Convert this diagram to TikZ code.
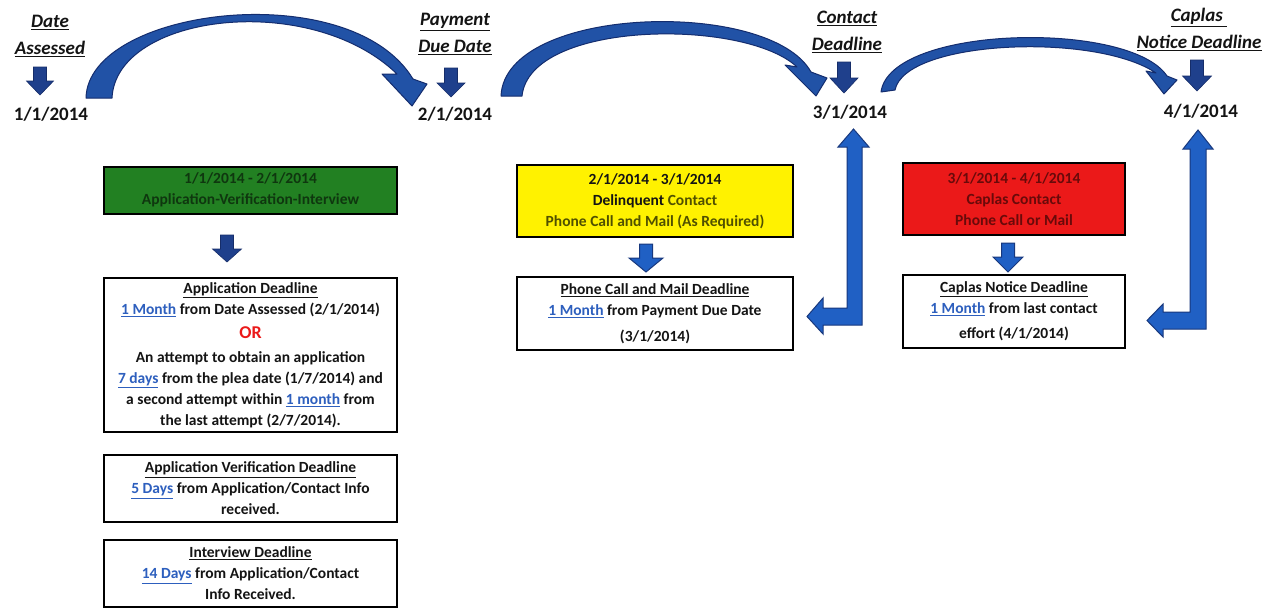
\documentclass[tikz,border=0pt]{standalone}
\usepackage{fontspec}
\setmainfont{Carlito}
\definecolor{navyarr}{RGB}{31,64,140}
\definecolor{navyedge}{RGB}{22,45,105}
\definecolor{brightarr}{RGB}{32,96,196}
\definecolor{brightedge}{RGB}{24,56,125}
\definecolor{curvefill}{RGB}{33,82,166}
\definecolor{curveedge}{RGB}{20,45,110}
\definecolor{linkblue}{RGB}{45,95,190}
\definecolor{boxgreen}{RGB}{34,128,34}
\definecolor{greentext}{RGB}{15,55,15}
\definecolor{boxred}{RGB}{235,25,25}
\definecolor{redtext}{RGB}{105,10,10}
\definecolor{olivetext}{RGB}{80,80,0}
\definecolor{ored}{RGB}{235,25,25}
\definecolor{txtblack}{RGB}{20,20,20}
\newcommand\boxfont{\fontsize{15.5}{21}\selectfont\bfseries}
\newcommand\lnk[1]{\textcolor{linkblue}{\underline{#1}}}
\newcommand\blkdown[7]{\filldraw[#7] ({#1-#5/2},#2) -- ({#1+#5/2},#2) -- ({#1+#5/2},#3) -- ({#1+#6/2},#3) -- (#1,#4) -- ({#1-#6/2},#3) -- ({#1-#5/2},#3) -- cycle;}
\tikzset{
  tbox/.style={draw=black, line width=2pt, fill=white, inner sep=0pt, align=center, font=\boxfont, text=txtblack},
  hdr/.style={align=center, inner sep=0pt, font=\fontsize{19}{27}\selectfont\bfseries\itshape, text=txtblack},
  datelbl/.style={inner sep=0pt, font=\fontsize{19}{22}\selectfont\bfseries, text=txtblack},
  navystyle/.style={fill=navyarr, draw=navyedge, line width=0.6pt},
  brightstyle/.style={fill=brightarr, draw=brightedge, line width=1pt},
  curvestyle/.style={fill=curvefill, draw=curveedge, line width=1pt, line join=round},
}
\begin{document}
\begin{tikzpicture}[x=1pt,y=-1pt]
\useasboundingbox[fill=white] (0,0) rectangle (1272,608);

% headers and dates
\node[hdr] (h1) at (50,36) {\underline{Date}\\\underline{Assessed}};
\node[hdr] (h2) at (455,34) {\underline{Payment}\\\underline{Due Date}};
\node[hdr] (h3) at (847,32) {\underline{Contact}\\\underline{Deadline}};
\node[hdr] (h4) at (1199,29.5) {\underline{Caplas\ }\\\underline{Notice Deadline}};
\node[datelbl] (d1) at (51,114.5) {1/1/2014};
\node[datelbl] (d2) at (455,114.5) {2/1/2014};
\node[datelbl] (d3) at (850,112) {3/1/2014};
\node[datelbl] (d4) at (1201,111) {4/1/2014};

% small down arrows under headers
\blkdown{40}{67}{81}{95}{13}{27}{navystyle}
\blkdown{451}{68}{83}{97}{13}{28}{navystyle}
\blkdown{844}{62}{78}{93}{13}{28}{navystyle}
\blkdown{1197}{60}{76}{91}{13}{29}{navystyle}

% curved arrows
\filldraw[curvestyle] (86,98) .. controls (88,8) and (350,-25) .. (413,79)
  -- (427,84) -- (412,106) -- (382,74) -- (397,74)
  .. controls (310,-10) and (116,14) .. (112,98) -- cycle;
\filldraw[curvestyle] (501,96) .. controls (505,5) and (770,-2) .. (811,72)
  -- (827,78) -- (816,96) -- (785,65) -- (797,67)
  .. controls (745,18) and (530,20) .. (522,96) -- cycle;
\filldraw[curvestyle] (881,92) .. controls (890,25) and (1130,20) .. (1167,76)
  -- (1177,80) -- (1164,94) -- (1146,71) -- (1156,73)
  .. controls (1095,32) and (905,40) .. (895,90) -- cycle;

% coloured boxes
\node[tbox, minimum width=293pt, minimum height=47pt, fill=boxgreen, text=greentext] (green) at (250.5,190)
  {1/1/2014 - 2/1/2014\\Application-Verification-Interview};
\node[tbox, minimum width=276pt, minimum height=72pt, fill=yellow] (yellowbox) at (655,201)
  {2/1/2014 - 3/1/2014\\Delinquent \textcolor{olivetext}{Contact}\\\textcolor{olivetext}{Phone Call and Mail (As Required)}};
\node[tbox, minimum width=222pt, minimum height=72pt, fill=boxred, text=redtext] (redbox) at (1014,199)
  {3/1/2014 - 4/1/2014\\Caplas Contact\\Phone Call or Mail};

% middle down arrows
\blkdown{227}{235}{249}{262}{13}{29}{navystyle}
\blkdown{646}{244}{258}{272}{13}{34}{brightstyle}
\blkdown{1008}{243}{257}{272}{13}{30}{brightstyle}

% white boxes
\node[tbox, minimum width=293pt, minimum height=154pt] (appdl) at (250.5,355)
  {\underline{Application Deadline}\\
   \lnk{1 Month} from Date Assessed (2/1/2014)\\[3pt]
   {\fontsize{18}{20}\selectfont\textcolor{ored}{OR}}\\[3pt]
   An attempt to obtain an application\\
   \lnk{7 days} from the plea date (1/7/2014) and\\
   a second attempt within \lnk{1 month} from\\
   the last attempt (2/7/2014).};
\node[tbox, minimum width=293pt, minimum height=67pt] (verif) at (250.5,488.5)
  {\underline{Application Verification Deadline}\\
   \lnk{5 Days} from Application/Contact Info\\
   received.};
\node[tbox, minimum width=293pt, minimum height=67pt] (interview) at (250.5,573.5)
  {\underline{Interview Deadline}\\
   \lnk{14 Days} from Application/Contact\\
   Info Received.};
\node[tbox, minimum width=276pt, minimum height=73pt] (phone) at (655,313.5)
  {\underline{Phone Call and Mail Deadline}\\
   \lnk{1 Month} from Payment Due Date\\[5pt]
   (3/1/2014)};
\node[tbox, minimum width=222pt, minimum height=73pt] (caplasdl) at (1014,311.5)
  {\underline{Caplas Notice Deadline}\\
   \lnk{1 Month} from last contact\\[4pt]
   effort (4/1/2014)};

% L-shaped arrows
\filldraw[brightstyle, line join=miter] (853.5,129) -- (869,147) -- (862,147) -- (862,325) -- (823,325) -- (823,334)
  -- (807,316.5) -- (823,298) -- (823,308) -- (847,308) -- (847,147) -- (838,147) -- cycle;
\filldraw[brightstyle, line join=miter] (1198,130) -- (1213,149) -- (1206,149) -- (1206,329) -- (1163,329) -- (1163,337)
  -- (1147,320.5) -- (1163,304) -- (1163,312) -- (1190,312) -- (1190,149) -- (1183,149) -- cycle;
\end{tikzpicture}
\end{document}
